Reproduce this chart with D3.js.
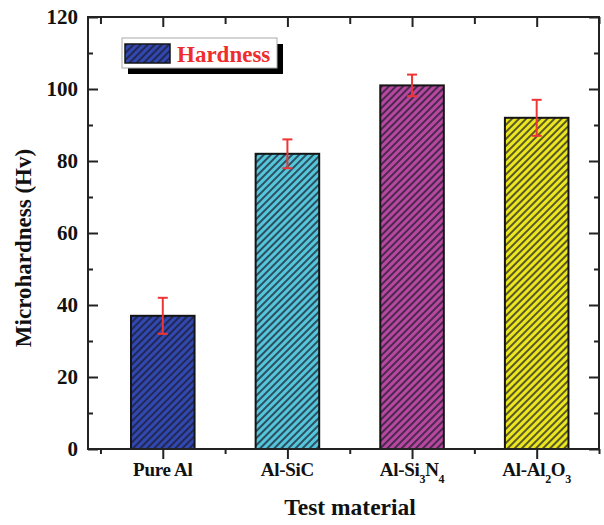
<!DOCTYPE html>
<html>
<head>
<meta charset="utf-8">
<script src="https://cdn.jsdelivr.net/npm/d3@7/dist/d3.min.js"></script>
<style>
  html, body { margin: 0; padding: 0; background: #fff; }
  svg { display: block; }
  text { font-family: "Liberation Serif", "Times New Roman", serif; font-weight: bold; }
</style>
</head>
<body>
<script>
// Microhardness of pure Al and the three composites
const categories = ["Pure Al", "Al-SiC", "Al-Si3N4", "Al-Al2O3"];
const hardness   = [37, 82, 101, 92];
const errors     = [5, 4, 3, 5];
const barColors  = ["#3148b0", "#55c6da", "#b8489f", "#ece61e"];
const yTicks     = [0, 20, 40, 60, 80, 100, 120];
const yMinorTicks = [10, 30, 50, 70, 90, 110];
const xMinorTicks = [0.5, 1.5, 2.5, 3.5, 4.5];
const legendLabel = "Hardness";
const xTitle = "Test material";
const yTitle = "Microhardness (Hv)";

const W = 604, H = 525;
const plotLeft = 88, plotRight = 599, plotTop = 17, plotBottom = 449;

const svg = d3.select("body").append("svg").attr("width", W).attr("height", H);

const x = d3.scaleLinear().domain([0.4, 4.5]).range([plotLeft, plotRight]);
const y = d3.scaleLinear().domain([0, 120]).range([plotBottom, plotTop]);
const barW = x(1.51) - x(1);

// diagonal hatch pattern per bar colour
const defs = svg.append("defs");
barColors.forEach((c, i) => {
  const p = defs.append("pattern")
    .attr("id", "hatch" + i)
    .attr("patternUnits", "userSpaceOnUse")
    .attr("width", 5).attr("height", 5)
    .attr("patternTransform", "rotate(45)");
  p.append("rect").attr("width", 5).attr("height", 5).attr("fill", c);
  p.append("line").attr("x1", 1).attr("y1", 0).attr("x2", 1).attr("y2", 5)
    .attr("stroke", "#1b1b2e").attr("stroke-opacity", 0.7).attr("stroke-width", 2);
});

// bars
svg.append("g").selectAll("rect")
  .data(hardness)
  .join("rect")
  .attr("x", (d, i) => x(i + 1) - barW / 2)
  .attr("y", d => y(d))
  .attr("width", barW)
  .attr("height", d => y(0) - y(d))
  .attr("fill", (d, i) => `url(#hatch${i})`)
  .attr("stroke", "#151515")
  .attr("stroke-width", 2);

// error bars
const err = svg.append("g").attr("stroke", "#ee3535").attr("stroke-width", 2).attr("fill", "none");
hardness.forEach((v, i) => {
  const cx = x(i + 1), y1 = y(v + errors[i]), y2 = y(v - errors[i]);
  err.append("line").attr("x1", cx).attr("x2", cx).attr("y1", y1).attr("y2", y2);
  err.append("line").attr("x1", cx - 5).attr("x2", cx + 5).attr("y1", y1).attr("y2", y1);
  err.append("line").attr("x1", cx - 5).attr("x2", cx + 5).attr("y1", y2).attr("y2", y2);
});

// axes: ticks inward on left/top/right, outward on bottom
function styleAxis(g) {
  g.select(".domain").remove();
  g.selectAll(".tick line").attr("stroke", "#222").attr("stroke-width", 2);
}
const catTicks = categories.map((c, i) => i + 1);

svg.append("g").attr("transform", `translate(${plotLeft},0)`)
  .call(d3.axisLeft(y).tickValues(yTicks).tickSize(-10).tickPadding(10))
  .call(styleAxis)
  .call(g => g.selectAll("text").attr("font-size", 21).attr("fill", "#111")
    .attr("font-family", "Liberation Serif"));
svg.append("g").attr("transform", `translate(${plotLeft},0)`)
  .call(d3.axisLeft(y).tickValues(yMinorTicks).tickSize(-5).tickFormat(""))
  .call(styleAxis);
svg.append("g").attr("transform", `translate(${plotRight},0)`)
  .call(d3.axisRight(y).tickValues(yTicks).tickSize(-10).tickFormat(""))
  .call(styleAxis);
svg.append("g").attr("transform", `translate(${plotRight},0)`)
  .call(d3.axisRight(y).tickValues(yMinorTicks).tickSize(-5).tickFormat(""))
  .call(styleAxis);
svg.append("g").attr("transform", `translate(0,${plotBottom})`)
  .call(d3.axisBottom(x).tickValues(catTicks).tickSize(10).tickFormat(""))
  .call(styleAxis);
svg.append("g").attr("transform", `translate(0,${plotBottom})`)
  .call(d3.axisBottom(x).tickValues(xMinorTicks).tickSize(5).tickFormat(""))
  .call(styleAxis);
svg.append("g").attr("transform", `translate(0,${plotTop})`)
  .call(d3.axisTop(x).tickValues(catTicks).tickSize(-10).tickFormat(""))
  .call(styleAxis);
svg.append("g").attr("transform", `translate(0,${plotTop})`)
  .call(d3.axisTop(x).tickValues(xMinorTicks).tickSize(-7).tickFormat(""))
  .call(styleAxis);

// frame
svg.append("rect")
  .attr("x", plotLeft).attr("y", plotTop)
  .attr("width", plotRight - plotLeft).attr("height", plotBottom - plotTop)
  .attr("fill", "none").attr("stroke", "#222").attr("stroke-width", 2);

// category labels, digits set as subscripts
const xl = svg.append("g").attr("font-size", 19).attr("fill", "#111").attr("text-anchor", "middle");
categories.forEach((c, i) => {
  const t = xl.append("text").attr("x", x(i + 1)).attr("y", 476).attr("letter-spacing", -0.3);
  let shifted = false;
  c.split(/(\d+)/).filter(s => s.length).forEach(part => {
    if (/^\d+$/.test(part)) {
      t.append("tspan").attr("font-size", 12).attr("dy", 7).text(part);
      shifted = true;
    } else {
      const s = t.append("tspan").text(part);
      if (shifted) { s.attr("dy", -7); shifted = false; }
    }
  });
});

// axis titles
svg.append("text")
  .attr("x", 350).attr("y", 515)
  .attr("text-anchor", "middle").attr("font-size", 23.5).attr("fill", "#111")
  .text(xTitle);
svg.append("text")
  .attr("transform", "translate(31,248) rotate(-90)")
  .attr("text-anchor", "middle").attr("font-size", 23).attr("fill", "#111")
  .text(yTitle);

// legend with drop shadow
const lg = svg.append("g");
lg.append("rect").attr("x", 128).attr("y", 44).attr("width", 155).attr("height", 30).attr("fill", "#000");
lg.append("rect").attr("x", 122).attr("y", 38).attr("width", 155).attr("height", 30)
  .attr("fill", "#fff").attr("stroke", "#aaa").attr("stroke-width", 1);
lg.append("rect").attr("x", 125).attr("y", 44).attr("width", 45).attr("height", 19)
  .attr("fill", "url(#hatch0)").attr("stroke", "#151515").attr("stroke-width", 1.5);
lg.append("text").attr("x", 177).attr("y", 62)
  .attr("font-size", 23).attr("fill", "#ee2e2e")
  .text(legendLabel);
</script>
</body>
</html>
